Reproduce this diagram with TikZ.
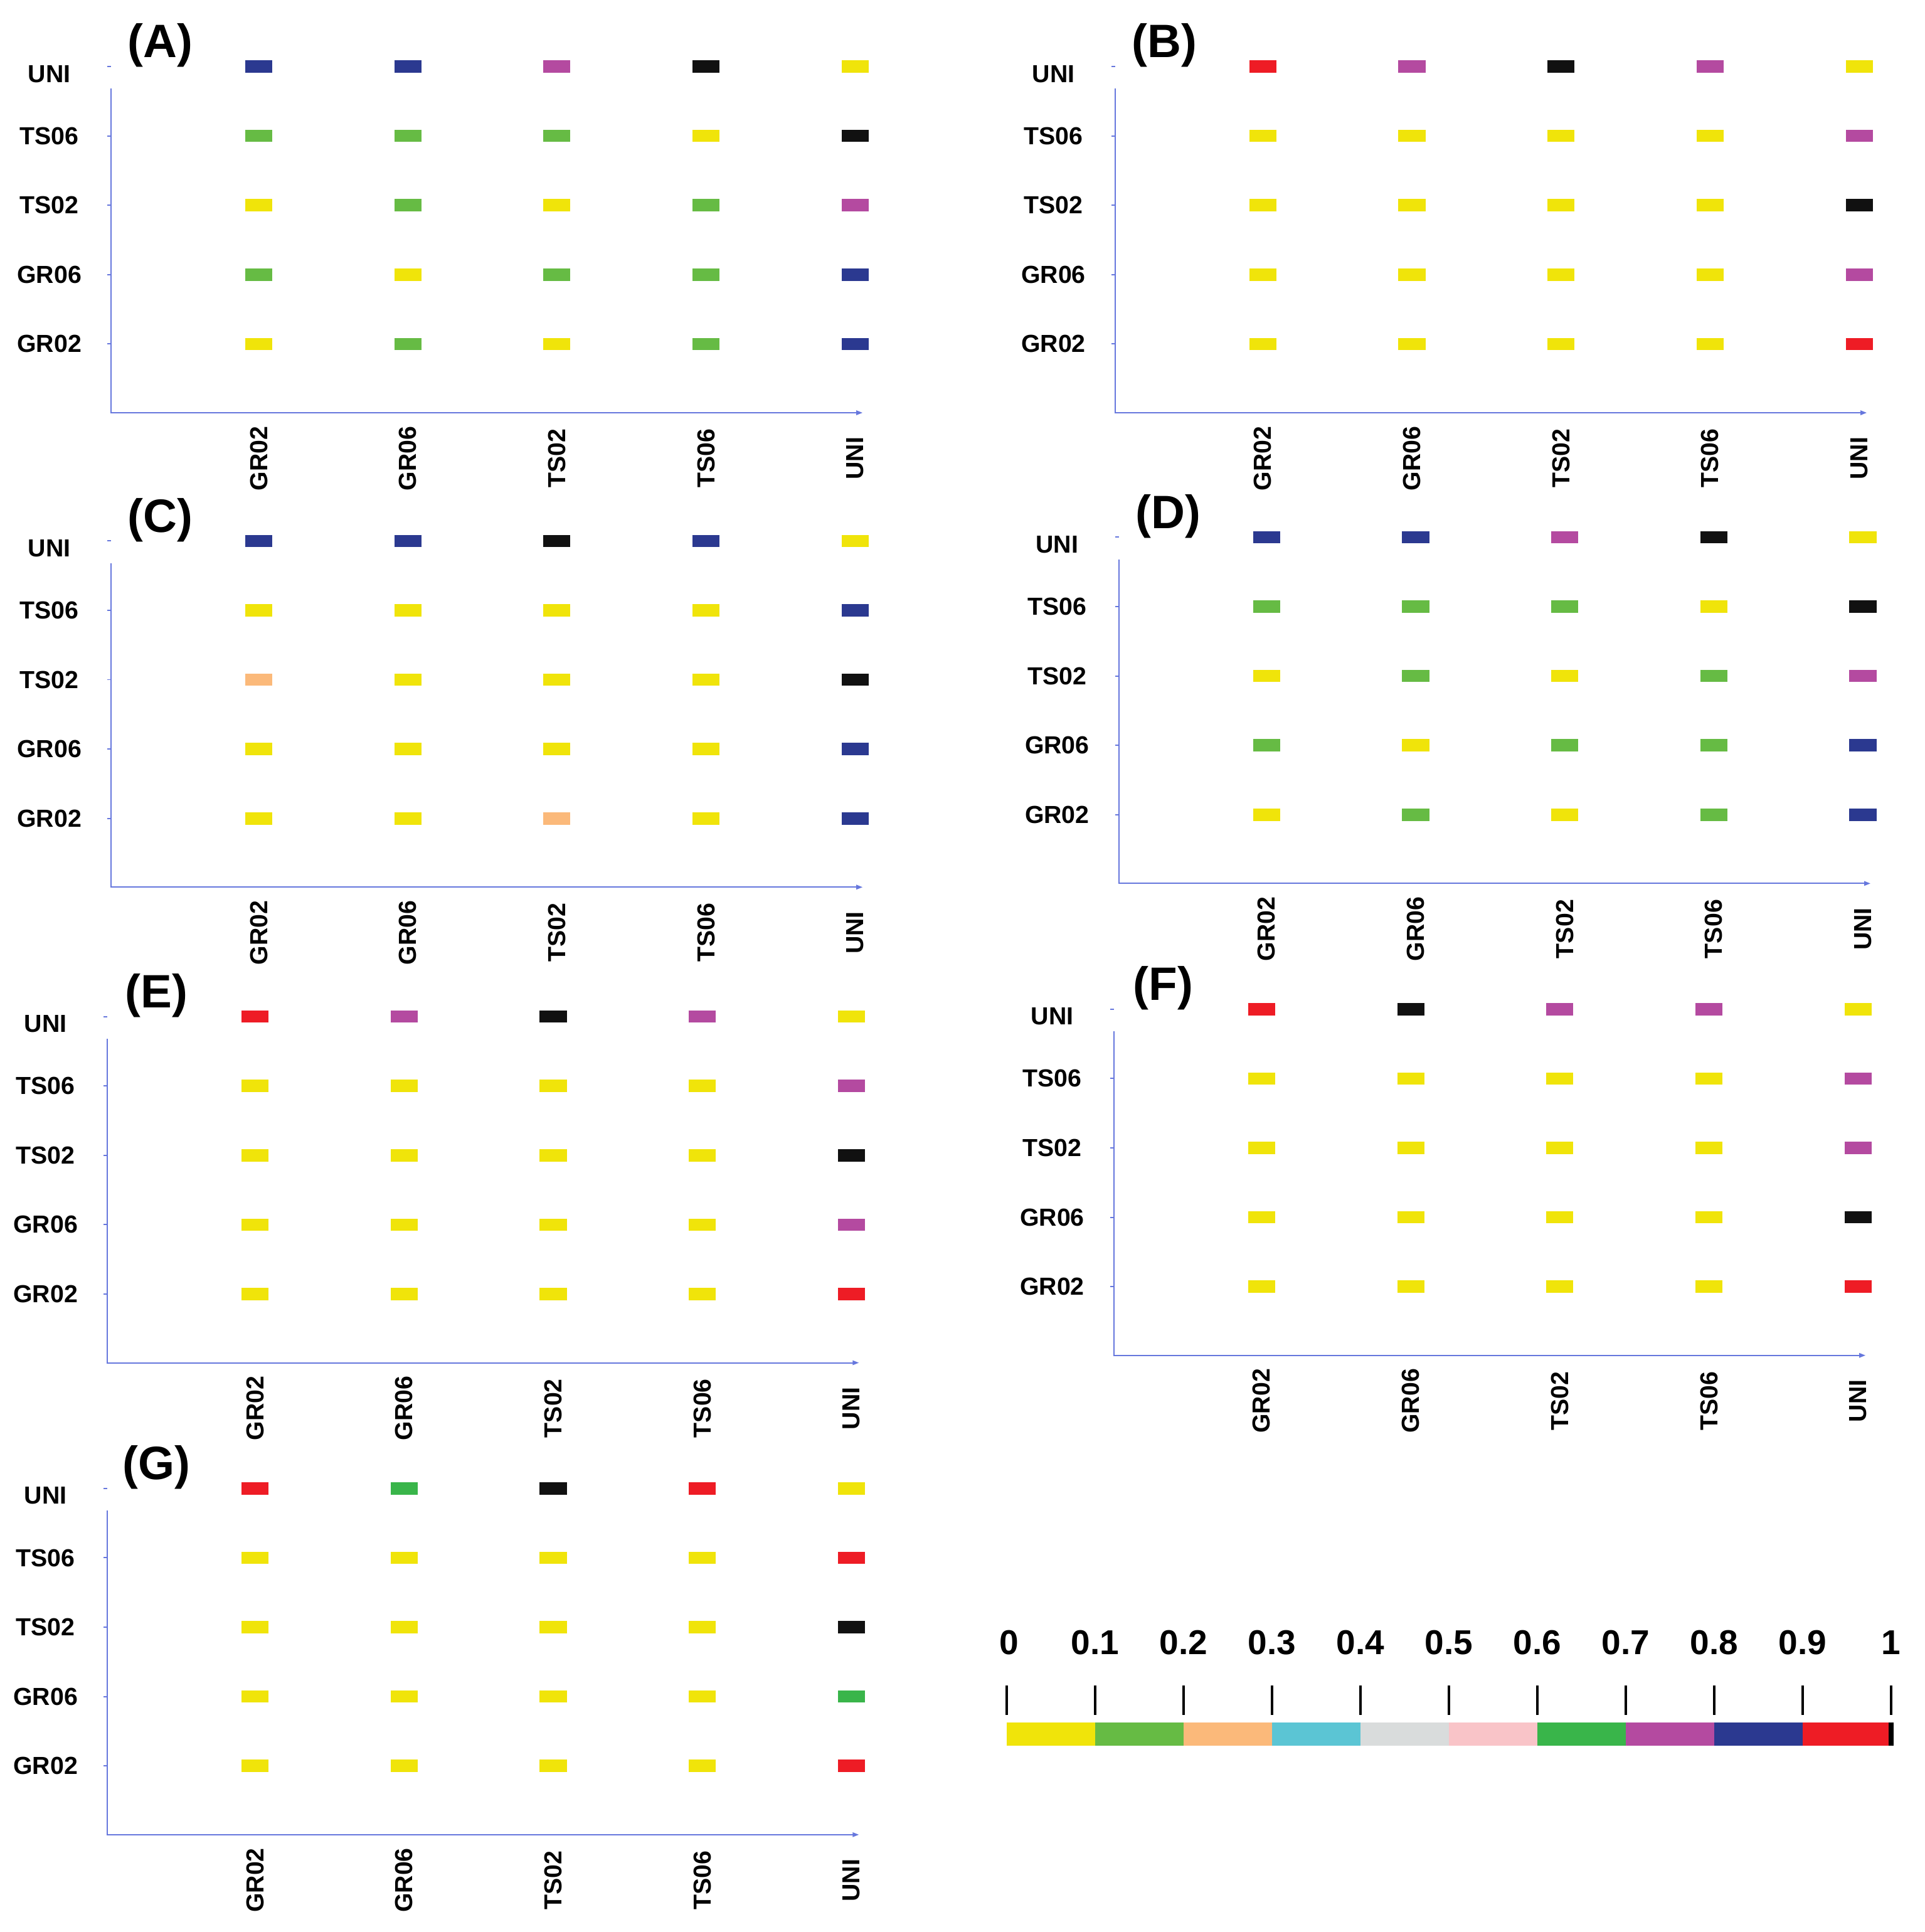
\documentclass[tikz,border=0pt]{standalone}
\usepackage{fontspec}
\setmainfont{Liberation Sans}
\definecolor{cY}{HTML}{F0E40A}
\definecolor{cG}{HTML}{66BB44}
\definecolor{cO}{HTML}{FBB97A}
\definecolor{cC}{HTML}{5BC5D4}
\definecolor{cL}{HTML}{D9DCDC}
\definecolor{cI}{HTML}{F9C4C8}
\definecolor{cD}{HTML}{39B54A}
\definecolor{cP}{HTML}{B44AA0}
\definecolor{cB}{HTML}{2B3990}
\definecolor{cR}{HTML}{EE1C25}
\definecolor{cK}{HTML}{111111}
\definecolor{axc}{HTML}{6677DD}
\tikzset{cell/.style={fill=#1,draw=none,minimum width=11pt,minimum height=5pt,inner sep=0pt},
 rowlab/.style={font=\bfseries\fontsize{10}{12}\selectfont},
 collab/.style={font=\bfseries\fontsize{10}{12}\selectfont,rotate=90},
 plab/.style={font=\bfseries\fontsize{19}{22}\selectfont},
 axis/.style={draw=axc,line width=0.5pt}}
\newcommand{\mypanel}[5]{%
 \begin{scope}[shift={(#1,-#2)}]
  \coordinate (o#3) at (0,-281); \coordinate (t#3) at (0,-18); \coordinate (e#3) at (607,-281);
  \draw[axis] (t#3) -- (o#3) -- (e#3);
  \fill[axc] (e#3) ++(3,0) -- ++(-5,2) -- ++(0,-4) -- cycle;
  \node[plab] (p#3) at (40,17) {(#3)};
  \foreach \lab [count=\j from 0] in {UNI,TS06,TS02,GR06,GR02}{
    \node[rowlab] (r#3\j) at (-50,{-56.3*\j-(\j==0?6:0)}) {\lab};
    \draw[axis] (-3,-56.3*\j) -- (0,-56.3*\j);}
  \foreach \lab [count=\i from 0] in {GR02,GR06,TS02,TS06,UNI}{
    \node[collab] (c#3\i) at (120+121*\i,-318) {\lab};}
  \foreach \rowc [count=\j from 0] in {#4}{
    \foreach \cc [count=\i from 0] in \rowc {
      \node[cell=c\cc] (x#3\j\i) at (120+121*\i,-56.3*\j) {};}}
 \end{scope}}
\begin{document}
\begin{tikzpicture}[x=0.5pt,y=0.5pt]
\path[use as bounding box] (0,0) rectangle (1562,-1568);
\mypanel{90}{54}{A}{{B,B,P,K,Y},{G,G,G,Y,K},{Y,G,Y,G,P},{G,Y,G,G,B},{Y,G,Y,G,B}}{}
\mypanel{905}{54}{B}{{R,P,K,P,Y},{Y,Y,Y,Y,P},{Y,Y,Y,Y,K},{Y,Y,Y,Y,P},{Y,Y,Y,Y,R}}{}
\mypanel{90}{439}{C}{{B,B,K,B,Y},{Y,Y,Y,Y,B},{O,Y,Y,Y,K},{Y,Y,Y,Y,B},{Y,Y,O,Y,B}}{}
\mypanel{908}{436}{D}{{B,B,P,K,Y},{G,G,G,Y,K},{Y,G,Y,G,P},{G,Y,G,G,B},{Y,G,Y,G,B}}{}
\mypanel{87}{825}{E}{{R,P,K,P,Y},{Y,Y,Y,Y,P},{Y,Y,Y,Y,K},{Y,Y,Y,Y,P},{Y,Y,Y,Y,R}}{}
\mypanel{904}{819}{F}{{R,K,P,P,Y},{Y,Y,Y,Y,P},{Y,Y,Y,Y,P},{Y,Y,Y,Y,K},{Y,Y,Y,Y,R}}{}
\mypanel{87}{1208}{G}{{R,D,K,R,Y},{Y,Y,Y,Y,R},{Y,Y,Y,Y,K},{Y,Y,Y,Y,D},{Y,Y,Y,Y,R}}{}
% legend
\foreach \c [count=\i from 0] in {cY,cG,cO,cC,cL,cI,cD,cP,cB,cR}{
  \fill[\c] ({817+71.8*\i},-1398) rectangle ({817+71.8*(\i+1)},-1417);}
\fill[black] (1533,-1398) rectangle (1537,-1417);
\foreach \v [count=\i from 0] in {0,0.1,0.2,0.3,0.4,0.5,0.6,0.7,0.8,0.9,1}{
  \draw[line width=1pt] ({817+71.8*\i},-1368) -- ({817+71.8*\i},-1392);
  \node[font=\bfseries\fontsize{14}{16}\selectfont] (v\i) at ({817+71.8*\i+(\i==0?2:0)},-1333) {\v};}
\end{tikzpicture}
\end{document}
